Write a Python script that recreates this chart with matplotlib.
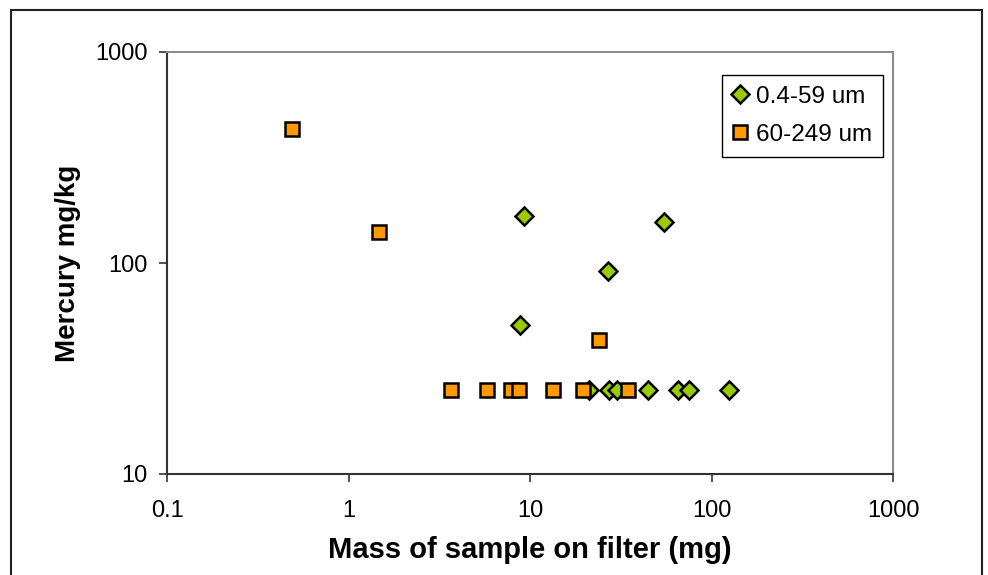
import matplotlib
matplotlib.use("Agg")
import matplotlib.pyplot as plt
from matplotlib.patches import Rectangle

plt.rcParams['font.family'] = ['Liberation Sans', 'DejaVu Sans']

# Data
fine_label = "0.4-59 um"
fine_mass = [9.3, 54.5, 26.8, 8.8, 21.1, 27.2, 30.1, 44.5, 65.0, 74.8, 125.6]
fine_hg = [167, 156, 92, 51, 25, 25, 25, 25, 25, 25, 25]

coarse_label = "60-249 um"
coarse_mass = [0.49, 1.48, 24.0, 3.68, 5.8, 7.86, 8.7, 13.4, 19.5, 34.5]
coarse_hg = [430, 140, 43, 25, 25, 25, 25, 25, 25, 25]

xticks = [0.1, 1, 10, 100, 1000]
xticklabels = ["0.1", "1", "10", "100", "1000"]
yticks = [10, 100, 1000]
yticklabels = ["10", "100", "1000"]

W, H = 988, 575
fig = plt.figure(figsize=(W / 100, H / 100), dpi=100)
ax = fig.add_axes([167 / W, 1 - 474 / H, (893 - 167) / W, (474 - 52) / H])

ax.plot(fine_mass, fine_hg, linestyle='none', marker='D', markersize=9.5,
        markerfacecolor='#99CC00', markeredgecolor='black', markeredgewidth=1.8,
        label=fine_label, zorder=3)
ax.plot(coarse_mass, coarse_hg, linestyle='none', marker='s', markersize=10.5,
        markerfacecolor='#FF9900', markeredgecolor='black', markeredgewidth=1.8,
        label=coarse_label, zorder=4)

ax.set_xscale('log')
ax.set_yscale('log')
ax.set_xlim(0.1, 1000)
ax.set_ylim(10, 1000)
ax.set_xticks(xticks)
ax.set_xticklabels(xticklabels)
ax.set_yticks(yticks)
ax.set_yticklabels(yticklabels)
ax.minorticks_off()
ax.tick_params(axis='both', direction='out', length=6, width=1.2, colors='#333333',
               labelsize=17, labelcolor='black')
ax.tick_params(axis='x', pad=13)
ax.tick_params(axis='y', pad=8)

for s in ['left', 'bottom']:
    ax.spines[s].set_color('#333333')
    ax.spines[s].set_linewidth(1.5)
for s in ['top', 'right']:
    ax.spines[s].set_color('#8c8c8c')
    ax.spines[s].set_linewidth(1.5)

ax.set_xlabel("Mass of sample on filter (mg)", fontsize=21, fontweight='bold', labelpad=10)
ax.set_ylabel("Mercury mg/kg", fontsize=20, fontweight='bold', labelpad=10)

leg = ax.legend(loc='upper right', bbox_to_anchor=(883 / W, 1 - 75 / H),
                bbox_transform=fig.transFigure, fontsize=17.5, frameon=True,
                fancybox=False, framealpha=1, edgecolor='black',
                handlelength=0.6, handletextpad=0.35, borderpad=0.45,
                labelspacing=0.65, borderaxespad=0)
leg.get_frame().set_linewidth(1.0)

# outer chart frame
fig.patches.append(Rectangle((11 / W, -0.1), (982 - 11) / W, 1.1 - 10 / H,
                             transform=fig.transFigure, fill=False,
                             edgecolor='#222222', linewidth=1.5))

fig.savefig("out.png", dpi=100)
